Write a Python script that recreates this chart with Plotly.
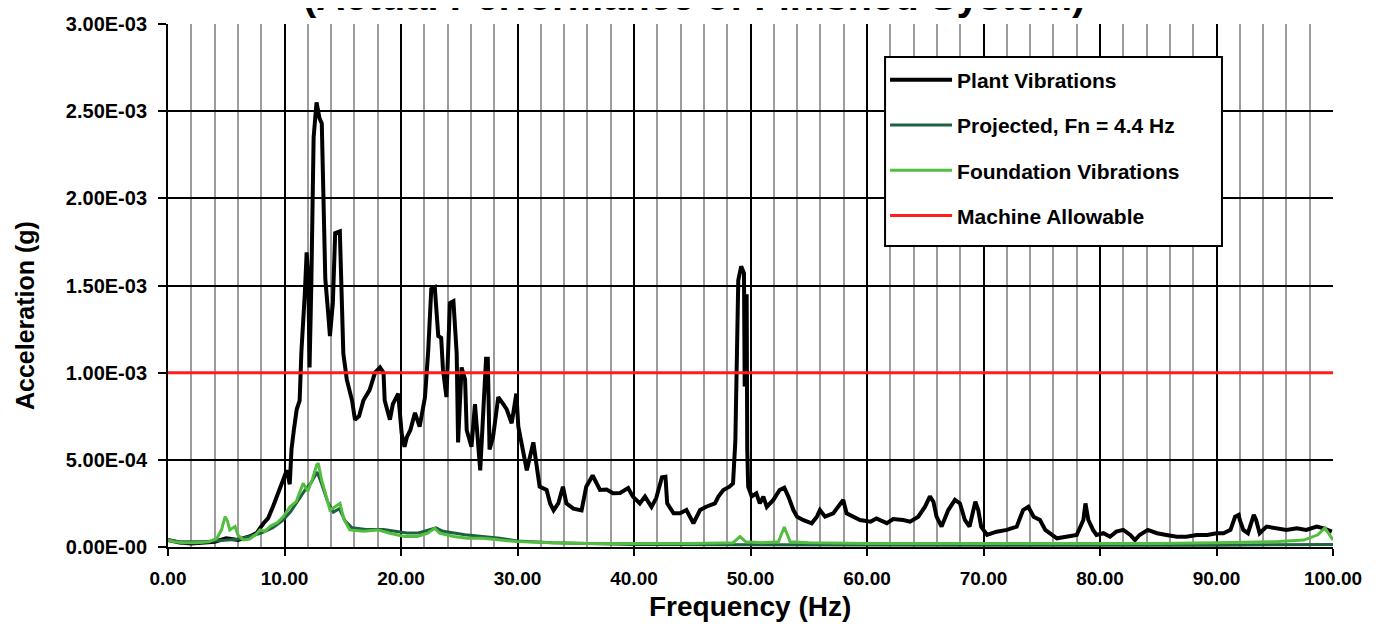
import numpy as np
import plotly.graph_objects as go

# ---------------------------------------------------------------------------
# Data (acceleration values in units of 1E-04 g)
# ---------------------------------------------------------------------------
plant_freq = [0.0, 0.5, 1.0, 2.0, 3.0, 4.0, 5.0, 6.0, 7.0, 7.6, 8.2, 8.6, 9.0, 9.3, 9.6,
              9.9, 10.2, 10.45, 10.6, 10.8, 11.05, 11.3, 11.45, 11.75, 11.9, 12.05, 12.15,
              12.3, 12.5, 12.75, 13.0, 13.2, 13.35, 13.5, 13.75, 13.9, 14.15, 14.35, 14.75,
              14.9, 15.05, 15.35, 15.8, 16.05, 16.4, 16.77, 17.3, 17.77, 18.2, 18.5, 18.6,
              19.05, 19.3, 19.76, 20.06, 20.3, 20.5, 20.8, 21.2, 21.6, 22.06, 22.34, 22.6,
              22.9, 23.2, 23.45, 23.6, 23.9, 24.2, 24.5, 24.78, 24.9, 25.2, 25.5, 25.64,
              26.05, 26.35, 26.8, 27.06, 27.3, 27.45, 27.6, 27.9, 28.35, 28.78, 29.07, 29.5,
              29.9, 30.07, 30.36, 30.8, 31.36, 31.64, 31.9, 32.5, 32.8, 33.1, 33.5, 33.9,
              34.2, 34.8, 35.5, 35.9, 36.45, 37.08, 37.65, 38.2, 38.8, 39.5, 39.9, 40.5,
              40.94, 41.5, 41.9, 42.4, 42.7, 42.85, 43.4, 43.95, 44.5, 45.1, 45.67, 46.2,
              46.95, 47.24, 47.67, 48.2, 48.5, 48.7, 48.8, 48.95, 49.2, 49.44, 49.5, 49.67,
              49.72, 49.8, 50.1, 50.5, 50.8, 51.1, 51.4, 51.96, 52.5, 52.9, 53.25, 53.68,
              54.0, 54.5, 55.25, 55.7, 55.96, 56.4, 57.1, 57.7, 57.96, 58.25, 58.8, 59.4,
              60.3, 60.8, 61.7, 62.25, 63.1, 63.7, 64.4, 64.98, 65.4, 65.7, 65.97, 66.4,
              66.98, 67.55, 67.98, 68.4, 68.8, 69.3, 69.55, 69.8, 70.3, 71.13, 72.0, 72.85,
              73.4, 73.85, 74.3, 74.85, 75.3, 75.7, 76.3, 77.1, 78.0, 78.57, 78.75, 79.0,
              79.4, 79.7, 80.3, 80.86, 81.4, 82.0, 82.6, 83.0, 83.4, 84.1, 84.9, 85.7, 86.6,
              87.4, 88.3, 89.2, 90.0, 90.6, 91.2, 91.6, 91.9, 92.0, 92.3, 92.7, 93.2, 93.4,
              93.7, 94.3, 95.2, 96.0, 96.9, 97.7, 98.6, 99.2, 99.9]
plant_acc = [0.4, 0.3, 0.25, 0.2, 0.25, 0.3, 0.5, 0.4, 0.6, 0.8, 1.36, 1.66, 2.3, 2.8, 3.3,
             3.85, 4.4, 3.6, 5.6, 6.7, 7.9, 8.4, 11.2, 14.6, 16.9, 15.3, 10.3,
             15.0, 23.5, 25.5, 24.6, 24.3, 18.3, 15.4, 13.4, 12.1, 14.0, 18.0, 18.1,
             14.6, 11.1, 9.6, 8.4, 7.3, 7.5, 8.4, 9.0, 10.0, 10.3, 10.0, 8.4,
             7.3, 8.2, 8.8, 6.5, 5.75, 6.3, 6.7, 7.7, 6.9, 8.6, 11.3, 14.8,
             14.9, 12.1, 12.0, 10.2, 8.6, 14.0, 14.1, 11.1, 6.0, 10.3, 9.6, 6.7,
             5.75, 8.2, 4.4, 7.7, 10.8, 10.8, 5.6, 6.3, 8.6, 8.2, 7.9, 7.1,
             8.8, 6.9, 6.0, 4.4, 6.0, 4.8, 3.46, 3.27, 2.5, 2.1, 2.5, 3.46,
             2.5, 2.2, 2.1, 3.46, 4.1, 3.27, 3.3, 3.08, 3.1, 3.38, 2.89, 2.5,
             2.89, 2.3, 2.79, 4.0, 4.03, 2.5, 1.93, 1.93, 2.12, 1.36, 2.12, 2.31,
             2.5, 2.89, 3.27, 3.46, 3.65, 6.1, 11.1, 15.3, 16.1, 15.7, 9.2, 14.5,
             5.6, 3.46, 2.9, 3.08, 2.5, 2.89, 2.3, 2.7, 3.27, 3.4, 2.89, 2.12,
             1.74, 1.55, 1.36, 1.74, 2.12, 1.74, 1.93, 2.5, 2.7, 1.93, 1.74, 1.55,
             1.45, 1.64, 1.37, 1.6, 1.55, 1.45, 1.74, 2.31, 2.9, 2.6, 1.74, 1.17,
             2.12, 2.7, 2.5, 1.55, 1.17, 2.6, 2.12, 1.17, 0.69, 0.88, 0.98, 1.17,
             2.12, 2.31, 1.74, 1.55, 0.98, 0.79, 0.5, 0.59, 0.69, 1.55, 2.5, 1.55,
             0.98, 0.69, 0.79, 0.59, 0.88, 0.98, 0.69, 0.4, 0.69, 0.98, 0.79, 0.69, 0.59,
             0.59, 0.69, 0.69, 0.79, 0.79, 0.98, 1.74, 1.84, 1.55, 0.98, 0.79, 1.84, 1.55,
             0.79, 1.17, 1.07, 0.98, 1.07, 0.98, 1.17, 1.07, 0.88]

projected_freq = [0.0, 1.0, 3.0, 5.0, 6.0, 7.0, 8.0, 9.0, 9.8, 10.5, 11.2, 11.8, 12.3, 12.8,
                  13.2, 13.7, 14.2, 14.7, 15.2, 15.8, 17.0, 18.5, 19.5, 20.5, 21.5, 22.5,
                  23.0, 23.6, 24.5, 25.5, 27.0, 28.5, 30.0, 33.0, 40.0, 50.0, 60.0, 70.0,
                  80.0, 90.0, 100.0]
projected_acc = [0.4, 0.3, 0.3, 0.4, 0.45, 0.6, 0.8, 1.1, 1.5, 2.0, 2.7, 3.3, 3.7, 4.3,
                 3.6, 2.6, 2.0, 2.2, 1.5, 1.1, 1.0, 1.0, 0.9, 0.8, 0.8, 1.0,
                 1.1, 0.9, 0.8, 0.7, 0.6, 0.5, 0.35, 0.25, 0.15, 0.12, 0.1, 0.1,
                 0.1, 0.1, 0.15]

foundation_freq = [0.0, 0.5, 1.3, 2.5, 3.5, 4.2, 4.6, 4.9, 5.1, 5.3, 5.75, 6.0, 6.46, 7.0,
                   7.5, 7.9, 8.3, 8.8, 9.4, 9.9, 10.47, 11.0, 11.6, 12.0, 12.4, 12.76, 12.9,
                   13.2, 13.5, 13.9, 14.3, 14.76, 15.1, 15.6, 16.8, 18.0, 19.05, 20.3, 21.4,
                   22.3, 22.9, 23.3, 24.5, 25.7, 27.05, 29.9, 33.0, 36.0, 40.0, 45.0, 48.5,
                   49.1, 49.6, 51.0, 52.4, 52.9, 53.4, 55.0, 60.0, 65.0, 70.0, 75.0, 80.0,
                   85.0, 90.0, 95.0, 97.5, 98.7, 99.3, 99.7, 100.0]
foundation_acc = [0.4, 0.3, 0.25, 0.25, 0.3, 0.5, 1.0, 1.74, 1.5, 0.98, 1.17, 0.7, 0.4, 0.45,
                  0.7, 0.98, 0.9, 1.2, 1.4, 1.74, 2.31, 2.6, 3.65, 3.2, 3.9, 4.7, 4.8,
                  3.8, 3.1, 2.12, 2.3, 2.5, 1.6, 0.98, 0.9, 0.98, 0.79, 0.6, 0.6,
                  0.8, 1.07, 0.8, 0.6, 0.5, 0.5, 0.31, 0.25, 0.2, 0.2, 0.2, 0.25,
                  0.6, 0.3, 0.25, 0.3, 1.15, 0.3, 0.25, 0.2, 0.2, 0.2, 0.2, 0.2,
                  0.2, 0.25, 0.3, 0.4, 0.7, 1.1, 0.7, 0.4]

allowable_freq = [0.0, 100.0]
allowable_acc = [10.0, 10.0]

y_tick_vals = [0.0, 5.0, 10.0, 15.0, 20.0, 25.0, 30.0]
y_tick_text = ["0.00E-00", "5.00E-04", "1.00E-03", "1.50E-03", "2.00E-03", "2.50E-03", "3.00E-03"]
x_tick_vals = [0, 10, 20, 30, 40, 50, 60, 70, 80, 90, 100]
x_tick_text = ["0.00", "10.00", "20.00", "30.00", "40.00", "50.00", "60.00", "70.00",
               "80.00", "90.00", "100.00"]

UNIT = 1e-4  # values above are in 1E-04 g

FONT = "Liberation Sans, Arial, sans-serif"

# ---------------------------------------------------------------------------
# Figure  (page body has an 8px margin, so the figure is 8px smaller each way)
# ---------------------------------------------------------------------------
fig = go.Figure()

series = [
    ("Plant Vibrations", plant_freq, plant_acc, "#000000", 4),
    ("Projected, Fn = 4.4 Hz", projected_freq, projected_acc, "#1e6140", 3),
    ("Foundation Vibrations", foundation_freq, foundation_acc, "#52bd3f", 3),
    ("Machine Allowable", allowable_freq, allowable_acc, "#ff1e1e", 3),
]

for name, fx, fy, color, width in series:
    fig.add_trace(go.Scatter(x=fx,
                             y=np.array(fy) * UNIT,
                             mode='lines',
                             name=name,
                             legendgroup=name,
                             line=dict(color=color, width=width)))

# legend sits on a wider white box drawn as a shape
fig.add_shape(type='rect', xref='paper', yref='paper',
              x0=0.6155, x1=0.9047, y0=0.5755, y1=0.937,
              fillcolor='white', line=dict(color='black', width=2), layer='above')

fig.update_layout(
    width=1372, height=619,
    margin=dict(l=160, r=47, t=16, b=80),
    paper_bgcolor='white', plot_bgcolor='white',
    font=dict(family=FONT, color='black'),
    showlegend=True,
    legend=dict(x=0.6155, y=0.932, xanchor='left', yanchor='top',
                bgcolor='rgba(0,0,0,0)', borderwidth=0,
                traceorder='grouped', tracegroupgap=15, itemwidth=62,
                font=dict(family=FONT, size=21, color='black', weight='bold')),
)

fig.update_xaxes(range=[0, 100], automargin=False,
                 tickvals=x_tick_vals, ticktext=x_tick_text,
                 tickfont=dict(family=FONT, size=19, weight='bold'),
                 ticks='outside', ticklen=7, tickwidth=2, tickcolor='black',
                 ticklabelstandoff=6,
                 showgrid=True, gridcolor='black', gridwidth=2,
                 minor=dict(dtick=2, tick0=0, showgrid=True, gridcolor='#9c9c9c', gridwidth=2),
                 showline=True, linecolor='black', linewidth=2,
                 zeroline=False)

fig.update_yaxes(range=[0, 3e-3], automargin=False,
                 tickvals=np.array(y_tick_vals) * UNIT, ticktext=y_tick_text,
                 tickfont=dict(family=FONT, size=20, weight='bold'),
                 ticks='outside', ticklen=8, tickwidth=2, tickcolor='black',
                 ticklabelstandoff=7,
                 showgrid=True, gridcolor='black', gridwidth=2,
                 showline=True, linecolor='black', linewidth=2,
                 zeroline=False)

# Title (top of it is cut off in the source), axis titles
fig.add_annotation(text="(Actual Performance of Finished System)",
                   xref='paper', yref='paper', x=0.4515, y=1, yanchor='middle', yshift=28,
                   showarrow=False, font=dict(family=FONT, size=40, weight='bold'))
fig.add_annotation(text="Acceleration (g)", textangle=-90,
                   xref='paper', yref='paper', x=-0.1227, y=0.4417,
                   xanchor='center', yanchor='middle',
                   showarrow=False, font=dict(family=FONT, size=25, weight='bold'))
fig.add_annotation(text="Frequency (Hz)",
                   xref='paper', yref='paper', x=0.4996, y=-0.1147,
                   xanchor='center', yanchor='middle',
                   showarrow=False, font=dict(family=FONT, size=28, weight='bold'))

fig.write_html("out.html")
